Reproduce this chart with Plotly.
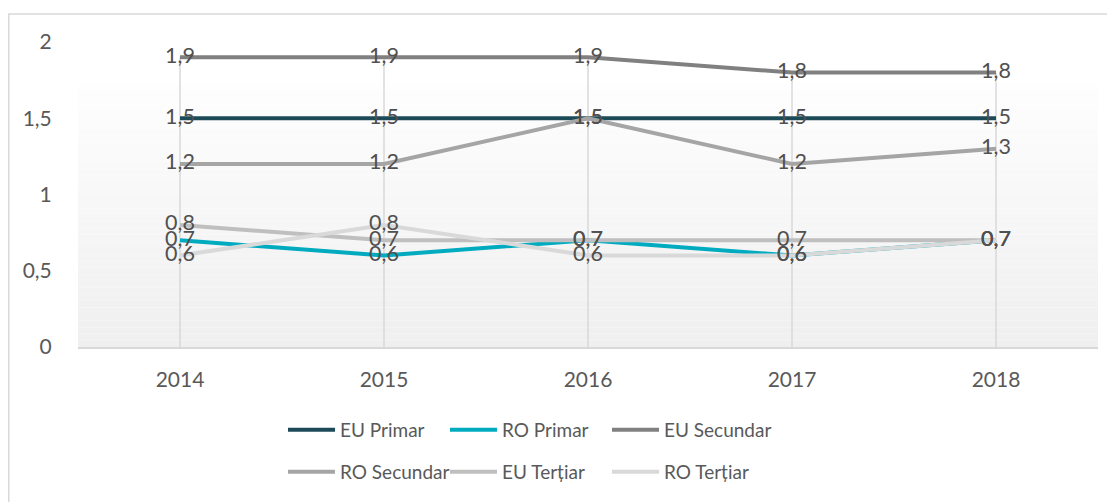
import plotly.graph_objects as go

years = ["2014", "2015", "2016", "2017", "2018"]
series_names = ["EU Primar", "RO Primar", "EU Secundar", "RO Secundar", "EU Terțiar", "RO Terțiar"]
eu_primar = [1.5, 1.5, 1.5, 1.5, 1.5]
ro_primar = [0.7, 0.6, 0.7, 0.6, 0.7]
eu_secundar = [1.9, 1.9, 1.9, 1.8, 1.8]
ro_secundar = [1.2, 1.2, 1.5, 1.2, 1.3]
eu_tertiar = [0.8, 0.7, 0.7, 0.7, 0.7]
ro_tertiar = [0.6, 0.8, 0.6, 0.6, 0.7]
y_ticks = [0, 0.5, 1, 1.5, 2]

all_series = [eu_primar, ro_primar, eu_secundar, ro_secundar, eu_tertiar, ro_tertiar]
colors = ["#1c4a57", "#00abc0", "#808080", "#a5a5a5", "#bfbfbf", "#d9d9d9"]

FONT = "Lato"
TXT = "#595959"

# page body has an 8px margin: compensate so the plot lands where the reference has it
OFF = 8
L, R_EDGE, TOP, BOT = 78 - OFF, 1098 - OFF, 42 - OFF, 347 - OFF
W, H = 1115, 502
PW = R_EDGE - L
PH = BOT - TOP

def fmt(v):
    return ("%g" % v).replace(".", ",")

fig = go.Figure()

# drop lines from highest value down to axis
dx, dy = [], []
for i, yr in enumerate(years):
    top = max(s[i] for s in all_series)
    dx += [yr, yr, None]
    dy += [top, 0, None]
fig.add_trace(go.Scatter(x=dx, y=dy, mode="lines", line=dict(color="#d9d9d9", width=1.5),
                         hoverinfo="skip", showlegend=False))

for k, (name, vals, col) in enumerate(zip(series_names, all_series, colors)):
    fig.add_trace(go.Scatter(x=years, y=vals, mode="lines", name=name,
                             line=dict(color=col, width=4),
                             legend="legend" if k < 3 else "legend2"))

# spacer entries so the last legend column is not clipped
for lg in ["legend", "legend2"]:
    fig.add_trace(go.Scatter(x=[None], y=[None], mode="lines", name=" ",
                             line=dict(color="rgba(0,0,0,0)", width=0),
                             legend=lg, hoverinfo="skip"))

for name, vals in zip(series_names, all_series):
    fig.add_trace(go.Scatter(x=years, y=vals, mode="text", text=[fmt(v) for v in vals],
                             textposition="middle center",
                             textfont=dict(family=FONT, size=21.5, color="#505050"),
                             hoverinfo="skip", showlegend=False))

shapes = []
# gradient plot background
N = 40
top_f = 0.866
c0 = (254, 254, 254)
c1 = (239, 239, 239)
for i in range(N):
    f0 = top_f * (1 - i / N)
    f1 = top_f * (1 - (i + 1) / N)
    t = (i + 0.5) / N
    c = tuple(int(round(c0[j] + (c1[j] - c0[j]) * t)) for j in range(3))
    shapes.append(dict(type="rect", xref="x domain", yref="y domain", x0=0, x1=1, y0=f1, y1=f0,
                       fillcolor="rgb(%d,%d,%d)" % c, line=dict(width=0), layer="below"))
# outer border
def px_x(p):
    return (p - OFF - L) / PW
def px_y(p):
    return (BOT - (p - OFF)) / PH
shapes.append(dict(type="rect", xref="paper", yref="paper",
                   x0=px_x(8.8), x1=px_x(1125),
                   y0=px_y(515), y1=px_y(14),
                   line=dict(color="#d9d9d9", width=1.5), fillcolor="rgba(0,0,0,0)", layer="below"))

legend_common = dict(orientation="h", xanchor="left", yanchor="middle",
                     entrywidth=100, entrywidthmode="pixels", itemwidth=47,
                     font=dict(family=FONT, size=19, color=TXT),
                     bgcolor="rgba(0,0,0,0)", itemclick=False, itemdoubleclick=False)

fig.update_layout(
    width=W, height=H,
    margin=dict(l=L, r=W - R_EDGE, t=TOP, b=H - BOT),
    paper_bgcolor="white", plot_bgcolor="rgba(0,0,0,0)",
    separators=", ",
    font=dict(family=FONT, size=20, color=TXT),
    shapes=shapes,
    showlegend=True,
    legend=dict(x=px_x(283), y=px_y(430), **legend_common),
    legend2=dict(x=px_x(283), y=px_y(472), **legend_common),
    xaxis=dict(type="category", range=[-0.5, 4.5], showgrid=False, zeroline=False,
               showline=True, linecolor="#d9d9d9", linewidth=1.5,
               ticks="outside", ticklen=13, tickcolor="rgba(0,0,0,0)",
               tickfont=dict(family=FONT, size=21, color=TXT)),
    yaxis=dict(range=[0, 2], tickvals=y_ticks, showgrid=False, zeroline=False, showline=False,
               ticks="outside", ticklen=21, tickcolor="rgba(0,0,0,0)",
               tickfont=dict(family=FONT, size=21, color=TXT)),
)

fig.write_html("out.html")
